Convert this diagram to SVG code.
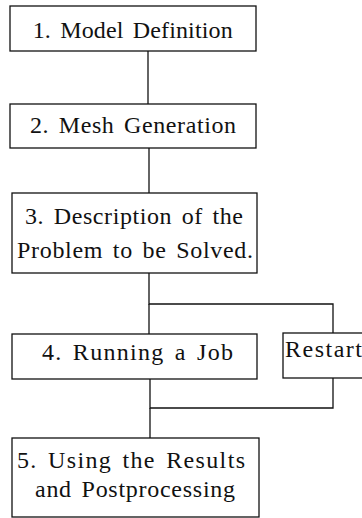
<svg xmlns="http://www.w3.org/2000/svg" width="362" height="518" viewBox="0 0 362 518">
<style>
.box{fill:#fff;stroke:#111;stroke-width:1.3}
.t{font-family:"Liberation Serif","Times New Roman",serif;font-size:24px;fill:#111;word-spacing:3px}
.c{fill:none;stroke:#111;stroke-width:1.3}
</style>
<rect width="362" height="518" fill="#fff"/>
<g id="connectors">
<line class="c" x1="148" y1="51" x2="148" y2="104"/>
<line class="c" x1="149" y1="148" x2="149" y2="193"/>
<polyline class="c" points="149,273 149,304 333,304 333,334"/>
<line class="c" x1="149" y1="304" x2="149" y2="334"/>
<polyline class="c" points="150,379 150,408 333,408 333,378"/>
<line class="c" x1="150" y1="408" x2="150" y2="438"/>
</g>
<g id="n1">
<rect class="box" x="10" y="6" width="246" height="45"/>
<text class="t" x="32.7" y="38" textLength="200" lengthAdjust="spacing">1. Model Definition</text>
</g>
<g id="n2">
<rect class="box" x="10" y="104" width="246" height="44"/>
<text class="t" x="30" y="133" textLength="206" lengthAdjust="spacing">2. Mesh Generation</text>
</g>
<g id="n3">
<rect class="box" x="12" y="193" width="245" height="80"/>
<text class="t" x="25" y="224" textLength="218" lengthAdjust="spacing">3. Description of the</text>
<text class="t" x="17" y="258" textLength="236" lengthAdjust="spacing">Problem to be Solved.</text>
</g>
<g id="n4">
<rect class="box" x="12" y="334" width="245" height="45"/>
<text class="t" x="42" y="360" textLength="191" lengthAdjust="spacing">4. Running a Job</text>
</g>
<g id="restart">
<rect class="box" x="283" y="333" width="90" height="45"/>
<text class="t" x="285" y="357" textLength="77" lengthAdjust="spacing">Restart</text>
</g>
<g id="n5">
<rect class="box" x="12" y="438" width="247" height="79"/>
<text class="t" x="17" y="468" textLength="228" lengthAdjust="spacing">5. Using the Results</text>
<text class="t" x="35" y="497" textLength="200" lengthAdjust="spacing">and Postprocessing</text>
</g>
</svg>
